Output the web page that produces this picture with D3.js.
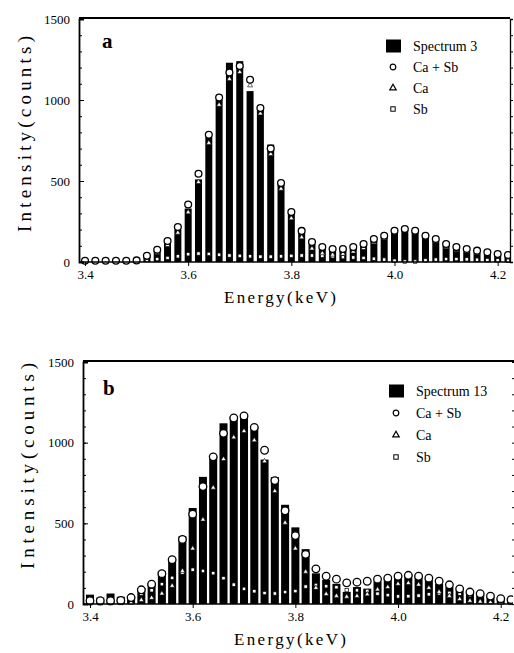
<!DOCTYPE html>
<html lang="en">
<head>
<meta charset="UTF-8">
<title>Spectra a and b</title>
<style>
  body { margin: 0; background: #fff; }
  svg text { font-family: "Liberation Serif", "Times New Roman", Times, serif; fill: #000; }
</style>
</head>
<body>
<script src="https://d3js.org/d3.v7.min.js"></script>
<div id="chart"></div>
<script>
// channel energies (keV)
const energy = [3.40, 3.42, 3.44, 3.46, 3.48, 3.50, 3.52, 3.54, 3.56, 3.58,
                3.60, 3.62, 3.64, 3.66, 3.68, 3.70, 3.72, 3.74, 3.76, 3.78,
                3.80, 3.82, 3.84, 3.86, 3.88, 3.90, 3.92, 3.94, 3.96, 3.98,
                4.00, 4.02, 4.04, 4.06, 4.08, 4.10, 4.12, 4.14, 4.16, 4.18,
                4.20, 4.22];

// panel a
const specA = [10, 10, 12, 10, 12, 15, 35, 70, 120, 200,
               330, 510, 770, 1000, 1230, 1240, 1055, 940, 725, 480,
               300, 180, 110, 80, 70, 70, 80, 100, 130, 155,
               180, 195, 185, 155, 130, 100, 80, 65, 55, 45,
               40, 35];
const sumA = [8, 8, 8, 8, 8, 10, 38, 75, 130, 216,
              355, 545, 785, 1015, 1170, 1210, 1125, 950, 700, 487,
              308, 192, 123, 92, 80, 80, 92, 111, 142, 162,
              193, 204, 193, 162, 142, 111, 92, 80, 70, 60,
              49, 43];
const caA = [2, 2, 2, 2, 2, 2, 26, 57, 105, 181,
             307, 493, 735, 970, 1130, 1172, 1090, 917, 667, 452,
             270, 152, 83, 54, 45, 50, 64, 86, 122, 147,
             185, 200, 190, 152, 127, 93, 74, 64, 56, 48,
             39, 35];
const sbA = [6, 6, 6, 6, 6, 8, 12, 18, 25, 35,
             48, 52, 50, 45, 40, 38, 35, 33, 33, 35,
             38, 40, 40, 38, 35, 30, 28, 25, 20, 15,
             8, 3, 3, 10, 15, 18, 18, 16, 14, 12,
             10, 8];

// panel b
const specB = [58, 40, 65, 45, 45, 100, 130, 205, 270, 420,
               595, 788, 915, 1120, 1160, 1165, 1100, 895, 787, 615,
               475, 340, 190, 150, 125, 75, 105, 95, 140, 165,
               178, 186, 180, 155, 125, 105, 85, 70, 60, 45,
               30, 25];
const sumB = [20, 20, 20, 22, 40, 88, 123, 188, 275, 400,
              557, 728, 912, 1058, 1153, 1166, 1094, 953, 765, 578,
              424, 308, 218, 172, 154, 131, 135, 141, 154, 160,
              172, 178, 172, 160, 141, 119, 94, 74, 64, 49,
              33, 27];
const caB = [3, 3, 4, 5, 8, 25, 38, 65, 113, 205,
             344, 523, 721, 898, 1033, 1072, 1015, 885, 700, 504,
             344, 200, 100, 62, 50, 45, 50, 60, 90, 105,
             125, 130, 120, 100, 75, 50, 30, 20, 15, 10,
             8, 5];
const sbB = [17, 17, 16, 17, 32, 63, 85, 123, 162, 195,
             213, 205, 191, 160, 120, 94, 79, 68, 65, 74,
             80, 108, 118, 110, 104, 86, 85, 81, 64, 55,
             47, 48, 52, 60, 66, 69, 64, 54, 49, 39,
             25, 22];

const yTicks = [0, 500, 1000, 1500];
const xTicks = [3.4, 3.6, 3.8, 4.0, 4.2];
const legendLabels = ["Ca + Sb", "Ca", "Sb"];

const W = 514, H = 653;
const serif = '"Liberation Serif", "Times New Roman", Times, serif';
const svg = d3.select("#chart").append("svg")
  .attr("width", W).attr("height", H);

function drawPanel(p) {
  const g = svg.append("g");

  const x = d3.scaleLinear().domain([3.40, 4.22]).range([p.x0, p.x1]);
  const y = d3.scaleLinear().domain([0, 1500]).range([p.y0, p.yTop]);

  // bars (spectrum)
  g.selectAll("rect.bar")
    .data(energy)
    .join("rect")
      .attr("class", "bar")
      .attr("x", d => x(d) - p.bw / 2)
      .attr("y", (d, i) => y(p.spec[i]))
      .attr("width", p.bw)
      .attr("height", (d, i) => y(0) - y(p.spec[i]))
      .style("fill", "#000");

  // Sb squares
  g.selectAll("rect.sb")
    .data(energy)
    .join("rect")
      .attr("class", "sb")
      .attr("x", d => x(d) - 1.7)
      .attr("y", (d, i) => y(p.sb[i]) - 1.7)
      .attr("width", 3.4).attr("height", 3.4)
      .style("fill", "#fff").style("stroke", "#000").style("stroke-width", 0.7);

  // Ca triangles
  const tri = d3.symbol().type(d3.symbolTriangle).size(11);
  g.selectAll("path.ca")
    .data(energy)
    .join("path")
      .attr("class", "ca")
      .attr("transform", (d, i) => `translate(${x(d)},${y(p.ca[i])})`)
      .attr("d", tri)
      .style("fill", "#fff").style("stroke", "#000").style("stroke-width", 0.6);

  // Ca + Sb circles
  g.selectAll("circle.sum")
    .data(energy)
    .join("circle")
      .attr("class", "sum")
      .attr("cx", d => x(d))
      .attr("cy", (d, i) => y(p.sum[i]))
      .attr("r", p.r)
      .style("fill", "#fff").style("stroke", "#000").style("stroke-width", 1.3);

  // white cover beyond right border
  g.append("rect")
    .attr("x", p.right + 1).attr("y", p.yTop - 5)
    .attr("width", W - p.right).attr("height", p.y0 - p.yTop + 10)
    .style("fill", "#fff");

  // left axis with inward ticks
  const yAxis = g.append("g")
    .attr("transform", `translate(${p.left},0)`)
    .call(d3.axisLeft(y).tickValues(yTicks).tickSize(-5).tickPadding(9).tickFormat(d3.format("d")));
  g.append("g")
    .attr("transform", `translate(${p.left},0)`)
    .call(d3.axisLeft(y).tickValues(d3.range(0, 1501, 100)).tickSize(-3).tickFormat(""))
    .select(".domain").remove();
  yAxis.attr("font-family", serif);
  yAxis.select(".domain").attr("stroke-width", 1.8);
  yAxis.selectAll("text").style("font-size", "13px").style("font-family", serif);

  // right axis ticks
  const rAxis = g.append("g")
    .attr("transform", `translate(${p.right},0)`)
    .call(d3.axisRight(y).tickValues(d3.range(0, 1501, 100)).tickSize(3).tickFormat(""));
  if (!p.rightLine) rAxis.select(".domain").remove();
  else rAxis.select(".domain").attr("stroke-width", 1.3);

  // bottom axis
  const xAxis = g.append("g")
    .attr("transform", `translate(0,${p.y0})`)
    .call(d3.axisBottom(x).tickValues(xTicks).tickSize(4).tickSizeOuter(0).tickPadding(4)
      .tickFormat(d3.format(".1f")));
  xAxis.attr("font-family", serif);
  xAxis.select(".domain").remove();
  xAxis.selectAll("text").style("font-size", "13px").style("font-family", serif);
  g.append("line")
    .attr("x1", p.left).attr("x2", p.right)
    .attr("y1", p.y0).attr("y2", p.y0)
    .style("stroke", "#000").style("stroke-width", 1.6);

  // top border
  g.append("line")
    .attr("x1", p.left).attr("x2", p.topEnd)
    .attr("y1", p.yTop - 1).attr("y2", p.yTop - 1)
    .style("stroke", "#000").style("stroke-width", 1.8);

  // axis titles
  g.append("text")
    .attr("transform", `translate(${p.yTitleX},${p.yTitleY}) rotate(-90)`)
    .attr("text-anchor", "middle")
    .attr("textLength", p.yTitleLen).attr("lengthAdjust", "spacing")
    .style("font-family", serif).style("font-size", "19px")
    .text("Intensity(counts)");
  g.append("text")
    .attr("x", p.xTitleX).attr("y", p.xTitleY)
    .attr("text-anchor", "middle")
    .attr("textLength", 112).attr("lengthAdjust", "spacing")
    .style("font-family", serif).style("font-size", "17px")
    .text("Energy(keV)");

  // panel letter
  g.append("text")
    .attr("x", p.letterX).attr("y", p.letterY)
    .style("font-family", serif).style("font-size", "21px").style("font-weight", "bold")
    .text(p.letter);

  // legend
  const lg = g.append("g").attr("transform", `translate(${p.legX},${p.legY})`);
  lg.append("rect").attr("x", -7).attr("y", -6.5).attr("width", 15).attr("height", 13)
    .style("fill", "#000");
  lg.append("text").attr("x", 20).attr("y", 5)
    .style("font-family", serif).style("font-size", "14px").text(p.specLabel);
  const step = p.legStep;
  lg.append("circle").attr("cx", 0).attr("cy", step).attr("r", 2.8)
    .style("fill", "#fff").style("stroke", "#000").style("stroke-width", 1.2);
  lg.append("path").attr("transform", `translate(0,${2 * step})`)
    .attr("d", d3.symbol().type(d3.symbolTriangle).size(18))
    .style("fill", "#fff").style("stroke", "#000").style("stroke-width", 1.2);
  lg.append("rect").attr("x", -2.2).attr("y", 3 * step - 2.2).attr("width", 4.4).attr("height", 4.4)
    .style("fill", "#fff").style("stroke", "#000").style("stroke-width", 1);
  legendLabels.forEach((t, i) => {
    lg.append("text").attr("x", 20).attr("y", (i + 1) * step + 5)
      .style("font-family", serif).style("font-size", "14px").text(t);
  });
}

drawPanel({
  spec: specA, sum: sumA, ca: caA, sb: sbA,
  x0: 85, x1: 508, y0: 262, yTop: 19, left: 79, right: 510, topEnd: 510,
  bw: 7, r: 3.4, rightLine: true,
  yTitleX: 31, yTitleY: 134, yTitleLen: 196,
  xTitleX: 280, xTitleY: 303,
  letter: "a", letterX: 102, letterY: 48,
  legX: 393, legY: 46, legStep: 21, specLabel: "Spectrum 3"
});

drawPanel({
  spec: specB, sum: sumB, ca: caB, sb: sbB,
  x0: 90, x1: 511, y0: 604, yTop: 362, left: 83, right: 512, topEnd: 514,
  bw: 8, r: 3.8, rightLine: false,
  yTitleX: 34, yTitleY: 466, yTitleLen: 206,
  xTitleX: 290, xTitleY: 645,
  letter: "b", letterX: 103, letterY: 395,
  legX: 396, legY: 391, legStep: 22, specLabel: "Spectrum 13"
});
</script>
</body>
</html>
